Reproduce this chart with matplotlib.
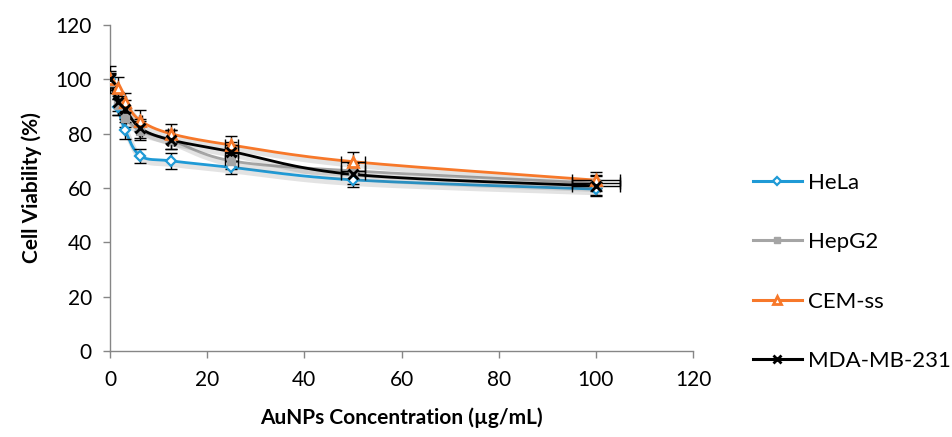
import numpy as np
import matplotlib
matplotlib.use("Agg")
import matplotlib.pyplot as plt
import matplotlib.patheffects as pe

plt.rcParams['font.family'] = ['Lato', 'DejaVu Sans']

conc = [0, 1.5625, 3.125, 6.25, 12.5, 25, 50, 100]

hela = [100, 89.9, 81.2, 71.8, 70.0, 67.6, 63.0, 59.6]
hela_err = [2.5, 3.0, 3.0, 2.7, 3.0, 2.5, 2.5, 2.5]

hepg2 = [99.0, 90.5, 85.8, 81.0, 77.7, 70.0, 66.3, 61.8]
hepg2_err = [3.0, 3.5, 3.5, 3.5, 3.5, 3.0, 3.0, 3.0]

cem = [100, 96.7, 91.5, 84.8, 80.0, 75.8, 69.7, 62.9]
cem_err = [3.0, 4.0, 3.5, 4.0, 3.5, 3.5, 3.5, 3.0]

mda = [100, 91.7, 89.0, 82.0, 77.7, 73.4, 65.0, 60.8]
mda_err = [5.0, 3.5, 3.5, 3.5, 3.5, 3.5, 3.5, 3.5]

series_names = ['HeLa', 'HepG2', 'CEM-ss', 'MDA-MB-231']

fig = plt.figure(figsize=(9.52, 4.37), dpi=100)
ax = fig.add_axes([110 / 952, 1 - 351 / 437, (693 - 110) / 952, (351 - 25) / 437])

XMAX, YMAX = 120, 120
# pixel-per-unit factors used for curve smoothing in screen-like space
sx = (693 - 110) / XMAX
sy = (351 - 25) / YMAX


def smooth(x, y, n=30):
    """Bezier smoothing through the points (Excel-style, tension 1/6)."""
    P = np.column_stack([np.asarray(x) * sx, np.asarray(y) * sy])
    out = []
    m = len(P)
    for i in range(m - 1):
        p0 = P[i - 1] if i > 0 else P[i]
        p1 = P[i]
        p2 = P[i + 1]
        p3 = P[i + 2] if i + 2 < m else P[i + 1]
        c1 = p1 + (p2 - p0) / 6.0
        c2 = p2 - (p3 - p1) / 6.0
        t = np.linspace(0, 1, n)[:, None]
        seg = ((1 - t) ** 3) * p1 + 3 * ((1 - t) ** 2) * t * c1 + 3 * (1 - t) * t ** 2 * c2 + t ** 3 * p2
        out.append(seg if i == 0 else seg[1:])
    S = np.vstack(out)
    return S[:, 0] / sx, S[:, 1] / sy


shadow = [pe.SimpleLineShadow(offset=(1.5, -2.5), shadow_color='#666666', alpha=0.18, linewidth=4),
          pe.Normal()]

styles = [
    dict(y=hela, err=hela_err, xerr=None, color='#1F9AD6', marker='D', ms=5, mfc='white', mew=1.6),
    dict(y=hepg2, err=hepg2_err, xerr=0.05, color='#A5A5A5', marker='s', ms=6, mfc='#A5A5A5', mew=1.0),
    dict(y=cem, err=cem_err, xerr=0.05, color='#F7782A', marker='^', ms=7, mfc='white', mew=2.0),
    dict(y=mda, err=mda_err, xerr=0.05, color='#000000', marker='x', ms=7, mfc='none', mew=2.0),
]

handles = []
for name, st in zip(series_names, styles):
    xs, ys = smooth(conc, st['y'])
    ax.plot(xs, ys, color=st['color'], lw=2.0, zorder=3, path_effects=shadow)
    xe = None if st['xerr'] is None else np.asarray(conc) * st['xerr']
    ax.errorbar(conc, st['y'], yerr=st['err'], xerr=xe, fmt='none', ecolor='black',
                elinewidth=1.0, capsize=4, capthick=1.0, zorder=4)
    ax.plot(conc, st['y'], linestyle='none', marker=st['marker'], ms=st['ms'],
            mfc=st['mfc'], mec=st['color'], mew=st['mew'], zorder=5)
    h, = ax.plot([], [], color=st['color'], lw=2.2, marker=st['marker'], ms=st['ms'] - 1,
                 mfc=st['mfc'], mec=st['color'], mew=st['mew'])
    handles.append(h)

ax.set_xlim(0, XMAX)
ax.set_ylim(0, YMAX)
ax.set_xticks(np.arange(0, 121, 20))
ax.set_yticks(np.arange(0, 121, 20))

for s in ['top', 'right']:
    ax.spines[s].set_visible(False)
for s in ['left', 'bottom']:
    ax.spines[s].set_color('#868686')
    ax.spines[s].set_linewidth(1.0)
ax.tick_params(axis='both', direction='out', length=5, width=1, color='#868686',
               labelsize=15, labelcolor='black')
ax.tick_params(axis='x', pad=9)
ax.tick_params(axis='y', pad=8)

ax.set_xlabel('AuNPs Concentration (\u00b5g/mL)', fontsize=15, fontweight='bold', labelpad=12)
ax.set_ylabel('Cell Viability (%)', fontsize=15, fontweight='bold', labelpad=10)

leg = fig.legend(handles, series_names, loc='upper left', bbox_to_anchor=(744 / 952, 1 - 164 / 437),
                 frameon=False, fontsize=16, handlelength=2.2, labelspacing=1.77,
                 handletextpad=0.3, borderaxespad=0)

fig.savefig('out.png', dpi=100)
